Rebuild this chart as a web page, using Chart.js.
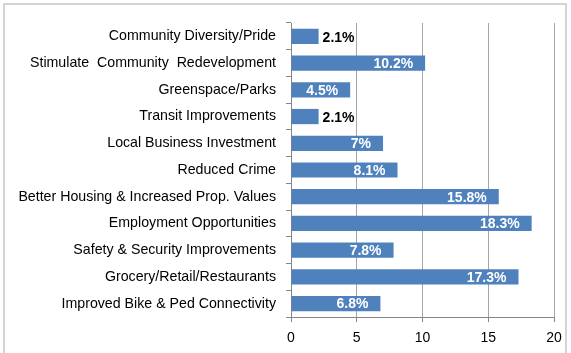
<!DOCTYPE html>
<html>
<head>
<meta charset="utf-8">
<script src="https://cdn.jsdelivr.net/npm/chart.js@4"></script>
<style>
  body { margin: 0; background: #fff; }
  #wrap { position: relative; width: 571px; height: 353px; }
  #frame { position: absolute; left: 3px; top: 3px; width: 564px; height: 360px; border: 2px solid #d4d4d4; box-sizing: border-box; }
  canvas { position: absolute; left: 0; top: 0; }
</style>
</head>
<body>
<div id="wrap">
  <div id="frame"></div>
  <canvas id="barcanvas" width="571" height="353"></canvas>
</div>
<script>
var categories = [
    "Community Diversity/Pride",
    "Stimulate  Community  Redevelopment",
    "Greenspace/Parks",
    "Transit Improvements",
    "Local Business Investment",
    "Reduced Crime",
    "Better Housing & Increased Prop. Values",
    "Employment Opportunities",
    "Safety & Security Improvements",
    "Grocery/Retail/Restaurants",
    "Improved Bike & Ped Connectivity"
];
var values = [2.1, 10.2, 4.5, 2.1, 7, 8.1, 15.8, 18.3, 7.8, 17.3, 6.8];
var valueLabels = ["2.1%", "10.2%", "4.5%", "2.1%", "7%", "8.1%", "15.8%", "18.3%", "7.8%", "17.3%", "6.8%"];
var xTicks = [0, 5, 10, 15, 20];

var fontName = "'Liberation Sans', Arial, sans-serif";

// draws the % labels on each bar (inside in white, outside in black when the bar is short)
var barLabels = {
    id: 'barLabels',
    afterDatasetsDraw: function (chart) {
        var ctx = chart.ctx;
        var meta = chart.getDatasetMeta(0);
        ctx.save();
        ctx.font = "bold 14px " + fontName;
        ctx.textBaseline = 'middle';
        meta.data.forEach(function (bar, i) {
            if (values[i] < 3) {
                ctx.fillStyle = '#000000';
                ctx.textAlign = 'left';
                ctx.fillText(valueLabels[i], bar.x + 4, bar.y + 2);
            } else {
                ctx.fillStyle = '#ffffff';
                ctx.textAlign = 'right';
                ctx.fillText(valueLabels[i], bar.x - 12, bar.y + 1);
            }
        });
        ctx.restore();
    }
};

var ctx = document.getElementById("barcanvas").getContext('2d');
new Chart(ctx, {
    type: 'bar',
    data: {
        labels: categories,
        datasets: [{
            data: values,
            backgroundColor: '#4f81bd',
            borderWidth: 0,
            barPercentage: 0.57,
            categoryPercentage: 1
        }]
    },
    options: {
        indexAxis: 'y',
        responsive: false,
        animation: false,
        layout: { padding: { top: 23, right: 17, left: 0, bottom: 0 } },
        plugins: {
            legend: { display: false },
            tooltip: { enabled: false }
        },
        scales: {
            x: {
                min: 0,
                max: 20,
                afterBuildTicks: function (scale) {
                    scale.ticks = xTicks.map(function (v) { return { value: v }; });
                },
                afterFit: function (scale) { scale.height = 36; },
                grid: { color: '#a6a6a6', tickLength: 5, tickColor: '#868686' },
                border: { color: '#868686' },
                ticks: { color: '#000', font: { family: fontName, size: 14 }, padding: 8 }
            },
            y: {
                afterFit: function (scale) { scale.width = 291; },
                grid: { drawOnChartArea: false, offset: true, tickLength: 5, color: '#868686' },
                border: { color: '#868686' },
                ticks: { color: '#000', font: { family: fontName, size: 14.2 }, padding: 10, autoSkip: false }
            }
        }
    },
    plugins: [barLabels]
});
</script>
</body>
</html>
